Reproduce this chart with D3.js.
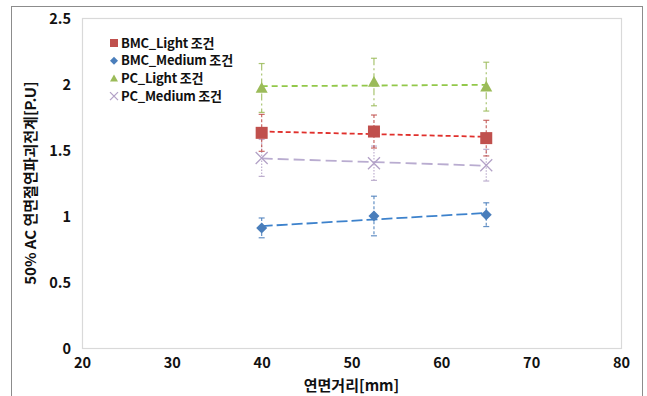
<!DOCTYPE html>
<html><head><meta charset="utf-8">
<script src="https://cdn.jsdelivr.net/npm/d3@7"></script>
<style>body{margin:0;background:#fff}svg{display:block}</style>
</head><body><svg id="c" width="647" height="396"></svg>
<script>
const xValues = [40, 52.5, 65];
const seriesNames = ["BMC_Light 조건", "BMC_Medium 조건", "PC_Light 조건", "PC_Medium 조건"];
const bmcLight = [1.63, 1.64, 1.59];
const bmcLightErr = [0.14, 0.125, 0.135];
const bmcMedium = [0.91, 1.0, 1.01];
const bmcMediumErr = [0.075, 0.15, 0.09];
const pcLight = [1.97, 2.015, 1.98];
const pcLightErr = [0.185, 0.18, 0.185];
const pcMedium = [1.44, 1.40, 1.385];
const pcMediumErr = [0.14, 0.13, 0.12];
const xTicks = [20, 30, 40, 50, 60, 70, 80];
const yTicks = [0, 0.5, 1, 1.5, 2, 2.5];
const xTitle = "연면거리[mm]";
const yTitle = "50% AC 연면절연파괴전계[P.U]";

const svg = d3.select("#c");
const font = "'Noto Sans CJK KR', 'Noto Sans', sans-serif";
const L = 82, R = 621, T = 18, B = 348;
const x = d3.scaleLinear().domain([20, 80]).range([L, R]);
const y = d3.scaleLinear().domain([0, 2.5]).range([B, T]);

// outer frame
svg.append("rect").attr("x", 11.5).attr("y", 6.5).attr("width", 631).attr("height", 400)
  .attr("fill", "none").attr("stroke", "#8c8c8c").attr("stroke-width", 1);
// plot area
svg.append("rect").attr("x", L + 0.5).attr("y", T + 0.5).attr("width", R - L).attr("height", B - T)
  .attr("fill", "none").attr("stroke", "#d9d9d9").attr("stroke-width", 1.2);

// axes labels
const xa = svg.append("g").attr("transform", `translate(0,368)`)
  .call(d3.axisBottom(x).tickValues(xTicks).tickSize(0).tickFormat(d3.format("d")));
xa.select(".domain").remove();
xa.selectAll("text").attr("font-family", font).attr("font-size", 14.5).attr("font-weight", "bold")
  .attr("fill", "#111").attr("y", 0).attr("dy", 0);
const ya = svg.append("g").attr("transform", `translate(${L - 11},0)`)
  .call(d3.axisLeft(y).tickValues(yTicks).tickSize(0).tickFormat(d => d3.format("")(d)));
ya.select(".domain").remove();
ya.selectAll("text").attr("font-family", font).attr("font-size", 14.5).attr("font-weight", "bold")
  .attr("fill", "#111").attr("x", 0).attr("dy", "0.35em");

svg.append("text").attr("x", (L + R) / 2).attr("y", 391).attr("text-anchor", "middle")
  .attr("font-family", font).attr("font-size", 15).attr("font-weight", "bold").attr("fill", "#111").text(xTitle);
svg.append("text").attr("transform", `translate(36,${(T + B) / 2}) rotate(-90)`).attr("text-anchor", "middle")
  .attr("font-family", font).attr("font-size", 15).attr("font-weight", "bold").attr("fill", "#111").text(yTitle);

function trend(vals) {
  const mx = d3.mean(xValues), my = d3.mean(vals);
  let num = 0, den = 0;
  xValues.forEach((xv, i) => { num += (xv - mx) * (vals[i] - my); den += (xv - mx) ** 2; });
  const s = num / den;
  return [[xValues[0], my + s * (xValues[0] - mx)], [xValues[2], my + s * (xValues[2] - mx)]];
}

const series = [
  {vals: pcMedium, err: pcMediumErr, color: "#b3a2c7", line: "#b9acd0", dash: "11,5", edash: "1.5,1.5", shape: "x"},
  {vals: bmcMedium, err: bmcMediumErr, color: "#4a7ebb", line: "#3d82cc", dash: "11,4", edash: "3,2", shape: "diamond"},
  {vals: bmcLight, err: bmcLightErr, color: "#c0504d", line: "#e0302c", dash: "5,3", edash: "3,2", shape: "square"},
  {vals: pcLight, err: pcLightErr, color: "#9bbb59", line: "#92c84a", dash: "6,4", edash: "7,3,2,3", shape: "triangle"},
];

const line = d3.line().x(d => x(d[0])).y(d => y(d[1]));

function marker(g, shape, cx, cy, size, color) {
  if (shape === "square") {
    g.append("rect").attr("x", cx - size / 2).attr("y", cy - size / 2).attr("width", size).attr("height", size).attr("fill", color);
  } else if (shape === "diamond") {
    const s = size / 2;
    g.append("path").attr("d", `M${cx},${cy - s}L${cx + s},${cy}L${cx},${cy + s}L${cx - s},${cy}Z`).attr("fill", color);
  } else if (shape === "triangle") {
    const s = size / 2;
    g.append("path").attr("d", `M${cx},${cy - s}L${cx + s},${cy + s * 0.8}L${cx - s},${cy + s * 0.8}Z`).attr("fill", color);
  } else {
    const s = size / 2;
    g.append("path").attr("d", `M${cx - s},${cy - s}L${cx + s},${cy + s}M${cx + s},${cy - s}L${cx - s},${cy + s}`)
      .attr("stroke", color).attr("stroke-width", 1.3).attr("fill", "none");
  }
}

series.forEach(s => {
  const g = svg.append("g");
  xValues.forEach((xv, i) => {
    const px = x(xv), top = y(s.vals[i] + s.err[i]), bot = y(s.vals[i] - s.err[i]);
    g.append("line").attr("x1", px).attr("x2", px).attr("y1", top).attr("y2", bot)
      .attr("stroke", s.color).attr("stroke-width", 1.2).attr("stroke-dasharray", s.edash).attr("opacity", 0.85);
    [top, bot].forEach(yy => g.append("line").attr("x1", px - 3).attr("x2", px + 3).attr("y1", yy).attr("y2", yy)
      .attr("stroke", s.color).attr("stroke-width", 1.2).attr("opacity", 0.85));
  });
  g.append("path").attr("d", line(trend(s.vals))).attr("fill", "none").attr("stroke", s.line)
    .attr("stroke-width", 1.8).attr("stroke-dasharray", s.dash);
  const size = s.shape === "diamond" ? 11 : 12;
  xValues.forEach((xv, i) => marker(g, s.shape, x(xv), y(s.vals[i]), size, s.color));
});

// legend
const legendOrder = [
  {name: seriesNames[0], shape: "square", color: "#c0504d"},
  {name: seriesNames[1], shape: "diamond", color: "#4a7ebb"},
  {name: seriesNames[2], shape: "triangle", color: "#9bbb59"},
  {name: seriesNames[3], shape: "x", color: "#b3a2c7"},
];
const lg = svg.append("g");
legendOrder.forEach((d, i) => {
  const cy = 43 + i * 17.7;
  marker(lg, d.shape, 114, cy, 8, d.color);
  lg.append("text").attr("x", 121).attr("y", cy).attr("dy", "0.35em")
    .attr("font-family", font).attr("font-size", 13).attr("font-weight", "bold").attr("fill", "#111")
    .attr("letter-spacing", "-0.2").text(d.name);
});
</script></body></html>
